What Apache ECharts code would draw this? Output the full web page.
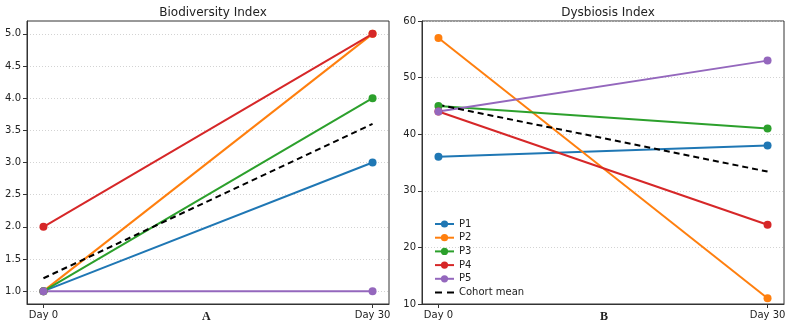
<!DOCTYPE html>
<html><head><meta charset="utf-8">
<script src="https://cdn.jsdelivr.net/npm/echarts@6/dist/echarts.min.js"></script>
<style>html,body{margin:0;padding:0;background:#fff}#c{width:795px;height:328px}</style>
</head><body><div id="c"></div>
<script>
const days = [0, 30];
const dayLabels = ['Day 0', 'Day 30'];
const patients = ['P1', 'P2', 'P3', 'P4', 'P5'];
const colors = ['#1f77b4', '#ff7f0e', '#2ca02c', '#d62728', '#9467bd'];
const bioValues = [[1, 3], [1, 5], [1, 4], [2, 5], [1, 1]];
const bioMean = [1.2, 3.6];
const dysValues = [[36, 38], [57, 11], [45, 41], [44, 24], [44, 53]];
const dysMean = [45.2, 33.4];
const bioTicks = [1.0, 1.5, 2.0, 2.5, 3.0, 3.5, 4.0, 4.5, 5.0];
const dysTicks = [10, 20, 30, 40, 50, 60];
const titles = ['Biodiversity Index', 'Dysbiosis Index'];
const panelLabels = ['A', 'B'];

const txt = '#222';
const frame = '#333';
function xAxis(gi) {
  return {
    type: 'value', gridIndex: gi, min: -1.5, max: 31.5,
    axisLine: { show: true, onZero: false, lineStyle: { color: frame, width: 1 } },
    axisTick: { show: true, customValues: days, length: 4, lineStyle: { color: frame } },
    axisLabel: { customValues: days, margin: 6, fontSize: 10, color: txt, fontFamily: 'DejaVu Sans',
      formatter: v => dayLabels[days.indexOf(v)] },
    splitLine: { show: false }
  };
}
const gridLine = { show: true, lineStyle: { color: '#c8c8c8', type: [1, 2], width: 0.8 } };
const option = {
  animation: false,
  title: [
    { text: titles[0], left: 208, top: 2, textAlign: 'center', textStyle: { fontSize: 12, fontWeight: 'normal', color: txt, fontFamily: 'DejaVu Sans' } },
    { text: titles[1], left: 603, top: 2, textAlign: 'center', textStyle: { fontSize: 12, fontWeight: 'normal', color: txt, fontFamily: 'DejaVu Sans' } }
  ],
  grid: [
    { left: 27, top: 21, width: 362, height: 283, show: true, borderColor: frame, borderWidth: 1 },
    { left: 422, top: 21, width: 362, height: 283, show: true, borderColor: frame, borderWidth: 1 }
  ],
  xAxis: [xAxis(0), xAxis(1)],
  yAxis: [
    { type: 'value', gridIndex: 0, min: 0.8, max: 5.2,
      axisLine: { show: true, onZero: false, lineStyle: { color: frame } },
      axisTick: { show: true, customValues: bioTicks, length: 4, lineStyle: { color: frame } },
      axisLabel: { customValues: bioTicks, margin: 6, fontSize: 10, color: txt, fontFamily: 'DejaVu Sans', formatter: v => v.toFixed(1) },
      splitLine: gridLine },
    { type: 'value', gridIndex: 1, min: 10, max: 60, interval: 10,
      axisLine: { show: true, onZero: false, lineStyle: { color: frame } },
      axisTick: { show: true, length: 4, lineStyle: { color: frame } },
      axisLabel: { margin: 6, fontSize: 10, color: txt, fontFamily: 'DejaVu Sans' },
      splitLine: gridLine }
  ],
  legend: {
    orient: 'vertical', left: 429, top: 214, itemWidth: 19, itemHeight: 9, itemGap: 3.7,
    symbolKeepAspect: true,
    textStyle: { fontSize: 10, color: txt, fontFamily: 'DejaVu Sans', lineHeight: 9 },
    data: patients.concat([{ name: 'Cohort mean', icon: 'path://M0,0H7V2H0Z M12,0H19V2H12Z', itemStyle: { color: '#000' } }])
  },
  graphic: [
    { type: 'text', left: 202, top: 311, style: { text: panelLabels[0], font: 'bold 12px "Liberation Serif", serif', fill: txt } },
    { type: 'text', left: 600, top: 311, style: { text: panelLabels[1], font: 'bold 12px "Liberation Serif", serif', fill: txt } }
  ],
  series: []
};
function addPanel(gi, values, mean) {
  values.forEach((vals, i) => {
    option.series.push({
      name: patients[i], type: 'line', xAxisIndex: gi, yAxisIndex: gi,
      data: days.map((d, k) => [d, vals[k]]),
      symbol: 'circle', symbolSize: 8, color: colors[i],
      lineStyle: { width: 2, color: colors[i] }, itemStyle: { color: colors[i] }
    });
  });
  option.series.push({
    name: 'Cohort mean', type: 'line', xAxisIndex: gi, yAxisIndex: gi,
    data: days.map((d, k) => [d, mean[k]]), symbol: 'none', color: '#000',
    lineStyle: { width: 2, color: '#000', type: [6, 4] }
  });
}
addPanel(0, bioValues, bioMean);
addPanel(1, dysValues, dysMean);
echarts.init(document.getElementById('c')).setOption(option);
</script></body></html>
